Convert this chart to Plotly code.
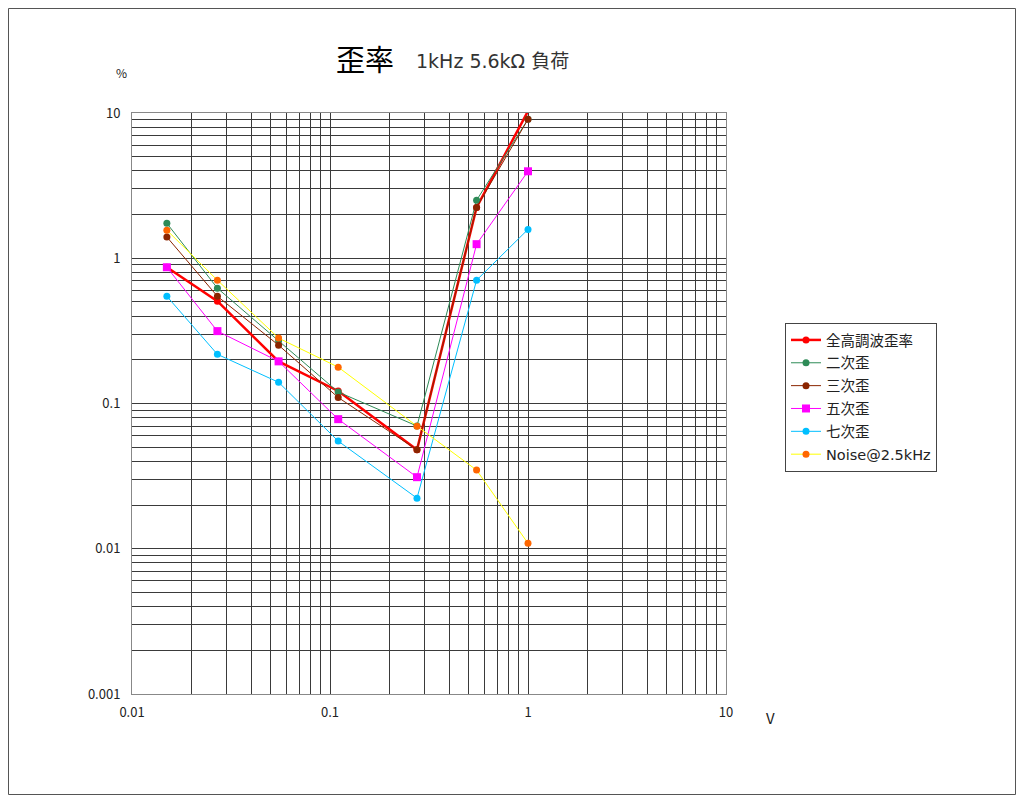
import plotly.graph_objects as go

# ---- data ----
voltage = [0.015, 0.027, 0.055, 0.11, 0.275, 0.55, 1.0]
thd = [0.867, 0.506, 0.195, 0.122, 0.048, 2.24, 10.3]
h2 = [1.74, 0.622, 0.27, 0.12, 0.07, 2.51, 9.05]
h3 = [1.40, 0.547, 0.252, 0.110, 0.048, 2.24, 9.05]
h5 = [0.867, 0.315, 0.195, 0.078, 0.0311, 1.25, 3.97]
h7 = [0.547, 0.218, 0.140, 0.0551, 0.0223, 0.706, 1.58]
noise = [1.56, 0.706, 0.282, 0.178, 0.0698, 0.0348, 0.0109]

series_names = ["全高調波歪率", "二次歪", "三次歪", "五次歪", "七次歪", "Noise@2.5kHz"]

x_ticks_major = [0.01, 0.1, 1, 10]
x_tick_labels = ["0.01", "0.1", "1", "10"]
y_ticks_major = [0.001, 0.01, 0.1, 1, 10]
y_tick_labels = ["0.001", "0.01", "0.1", "1", "10"]


def log_ticks(majors, labels):
    vals, texts = [], []
    for i, m in enumerate(majors):
        vals.append(m)
        texts.append(labels[i])
        if i < len(majors) - 1:
            for k in range(2, 10):
                vals.append(m * k)
                texts.append("")
    return vals, texts


xv, xt = log_ticks(x_ticks_major, x_tick_labels)
yv, yt = log_ticks(y_ticks_major, y_tick_labels)

fig = go.Figure()

styles = [
    dict(series=thd, line=dict(color="#FF0000", width=2.5), marker=dict(symbol="circle", size=7, color="#FF0000")),
    dict(series=h2, line=dict(color="#2E8B57", width=1), marker=dict(symbol="circle", size=7, color="#2E8B57")),
    dict(series=h3, line=dict(color="#8B2500", width=1), marker=dict(symbol="circle", size=7, color="#8B2500")),
    dict(series=h5, line=dict(color="#FF00FF", width=1), marker=dict(symbol="square", size=8, color="#FF00FF")),
    dict(series=h7, line=dict(color="#00BFFF", width=1), marker=dict(symbol="circle", size=7, color="#00BFFF")),
    dict(series=noise, line=dict(color="#FFFF00", width=1), marker=dict(symbol="circle", size=7, color="#FF6600")),
]

for i, (name, st) in enumerate(zip(series_names, styles)):
    fig.add_trace(go.Scatter(
        x=voltage, y=st["series"], mode="lines+markers", name=name,
        line=st["line"], marker=st["marker"], legendgroup=str(i),
        cliponaxis=False,
    ))

OFF = 8  # page body margin
PL, PR, PT, PB = 132 - OFF, 726 - OFF, 113 - OFF, 694 - OFF
W, H = 1008, 788


def px_x(p):
    return (p - OFF - PL) / (PR - PL)


def px_y(p):
    return (PB - (p - OFF)) / (PB - PT)


fig.update_layout(
    width=W, height=H,
    margin=dict(l=PL, r=W - PR, t=PT, b=H - PB),
    paper_bgcolor="white", plot_bgcolor="white",
    font=dict(family="Noto Sans CJK JP, Noto Sans, sans-serif", size=13, color="#222"),
    showlegend=True,
    legend=dict(
        x=px_x(785), y=px_y(323), xanchor="left", yanchor="top",
        bordercolor="#444", borderwidth=1, bgcolor="white",
        font=dict(size=14.5, color="#222", family="DejaVu Sans, Noto Sans CJK JP"),
        tracegroupgap=1, traceorder="grouped",
    ),
    xaxis=dict(
        type="log", range=[-2, 1], tickvals=xv, ticktext=xt,
        showgrid=True, gridcolor="#3a3a3a", gridwidth=1, ticks="",
        showline=True, linecolor="#888", mirror=True, zeroline=False,
        tickfont=dict(size=13, color="#222"), ticklabelstandoff=6,
    ),
    yaxis=dict(
        type="log", range=[-3, 1], tickvals=yv, ticktext=yt,
        showgrid=True, gridcolor="#3a3a3a", gridwidth=1, ticks="",
        showline=True, linecolor="#888", mirror=True, zeroline=False,
        tickfont=dict(size=13, color="#222"), ticklabelstandoff=8,
    ),
    shapes=[dict(type="rect", xref="paper", yref="paper",
                 x0=px_x(8.5), x1=px_x(1015.5), y0=px_y(794.5), y1=px_y(8.5),
                 line=dict(color="#555", width=1), layer="below")],
    annotations=[
        dict(text="歪率", xref="paper", yref="paper", x=px_x(396), y=px_y(58),
             xanchor="right", yanchor="middle", showarrow=False,
             font=dict(size=29, color="#000", family="Noto Sans CJK JP")),
        dict(text="1kHz 5.6kΩ 負荷", xref="paper", yref="paper", x=px_x(414), y=px_y(61),
             xanchor="left", yanchor="middle", showarrow=False,
             font=dict(size=19, color="#333", family="DejaVu Sans, Noto Sans CJK JP")),
        dict(text="%", xref="paper", yref="paper", x=px_x(121), y=px_y(73),
             xanchor="center", yanchor="middle", showarrow=False,
             font=dict(size=12, color="#222")),
        dict(text="V", xref="paper", yref="paper", x=px_x(770), y=px_y(717),
             xanchor="center", yanchor="middle", showarrow=False,
             font=dict(size=15, color="#222")),
    ],
)

fig.write_html("out.html")
